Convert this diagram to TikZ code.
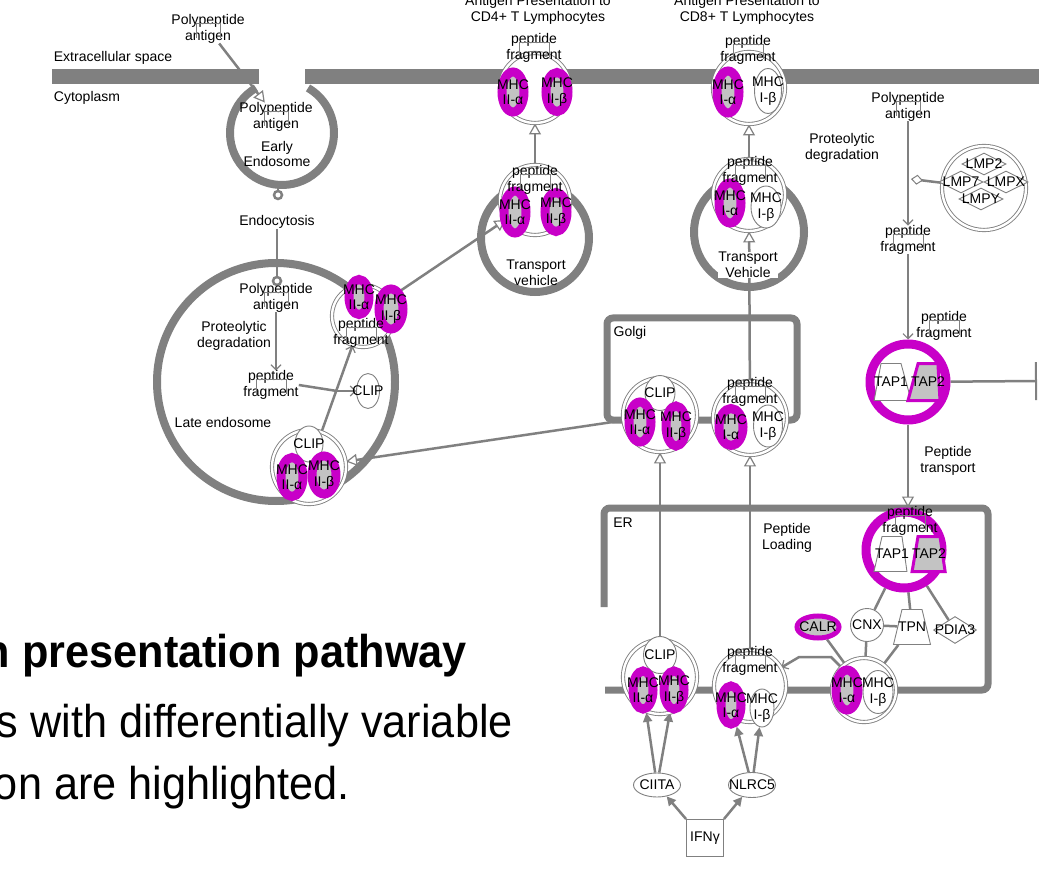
\documentclass[tikz,border=0pt]{standalone}
\usepackage{fontspec}
\setmainfont{Liberation Sans}
\newfontfamily\capfont[FakeStretch=0.94]{Liberation Sans}
\usetikzlibrary{arrows.meta,shapes.geometric,backgrounds}
\definecolor{wpgray}{RGB}{128,128,128}
\definecolor{wpmag}{RGB}{200,0,200}
\definecolor{wpfill}{RGB}{195,195,195}

\begin{document}
\begin{tikzpicture}[x=1pt,y=-1pt]
\tikzstyle{every node}+=[inner sep=0pt, font=\fontsize{14}{15.5}\selectfont, align=center]
\tikzstyle{memb}=[draw=wpgray, line width=15pt]
\tikzstyle{comp}=[draw=wpgray, line width=8pt]
\tikzstyle{cplx}=[circle, draw=wpgray, double=white, double distance=2.4pt, line width=0.9pt, fill=white]
\tikzstyle{hilite}=[ellipse, draw=wpmag, line width=9pt, fill=wpfill]
\tikzstyle{plain}=[ellipse, draw=wpgray, line width=0.9pt, fill=white]
\tikzstyle{trap}=[trapezium, trapezium stretches=true, inner sep=1pt, draw=wpgray, line width=0.9pt, fill=white]
\tikzstyle{dia}=[diamond, draw=wpgray, line width=0.9pt, fill=white, minimum width=44pt, minimum height=22pt]
\tikzstyle{ringend}=[circle, draw=wpgray, line width=2.5pt, fill=white, minimum size=8pt]
\tikzstyle{tapring}=[circle, draw=wpmag, line width=9pt, fill=white, minimum size=76pt]
\tikzstyle{brk}=[draw=wpgray, line width=0.6pt]
\tikzstyle{gline}=[draw=wpgray, line width=2.5pt]
\tikzstyle{conv}=[gline, -{Triangle[fill=white, line width=1.2pt, length=11pt, width=12pt]}]
\tikzstyle{react}=[gline, -{Straight Barb[line width=1.2pt, length=5pt, width=10pt]}]
\tikzstyle{stim}=[gline, -{Triangle[length=9pt, width=9pt]}]
\tikzstyle{cat}=[gline, -{Diamond[fill=white, line width=1pt, length=12pt, width=10pt]}]
\useasboundingbox (0,0) rectangle (1039,877);
\clip (0,0) rectangle (1039,877);

\node (pa0) at (208,29) {Polypeptide\\antigen};
\node (pa1) at (276,117) {Polypeptide\\antigen};

\begin{scope}[on background layer]
\draw[conv] (pa0) -- (pa1);
\draw[memb] (52,77) -- (259,77);
\draw[memb] (305,77) -- (1039,77);
\draw[comp] (282,133) ++(240:52) arc[start angle=240, end angle=-60, radius=52];
\draw[comp] (276,382) circle[radius=119];
\draw[comp] (535,238) circle[radius=54];
\draw[comp] (749,232) circle[radius=55];
\draw[comp, line width=7pt, rounded corners=6pt] (607,318) rectangle (797,420);
\draw[comp, line width=7pt, rounded corners=6pt] (604,607) -- (604,508) -- (988,508) -- (988,690) -- (605,690);
\end{scope}

\node (ext) at (113,58) {Extracellular space};
\node (cyto) at (87,98) {Cytoplasm};
\node (eendo) at (277,154) {Early\\Endosome};
\node[ringend] (ring1) at (278,195) {};
\node (endo) at (277,222) {Endocytosis};
\node[ringend] (ring2) at (277,281) {};
\node (pa2) at (276,298) {Polypeptide\\antigen};
\node (deg1) at (234,336) {Proteolytic\\degradation};
\node (pf2) at (271,385) {peptide\\fragment};
\node (lend) at (223,422) {Late endosome};
\node[plain, minimum width=23pt, minimum height=35pt, label={center:CLIP}] (clip1) at (368,391) {};
\coordinate (br) at (337,391);

% late endosome
\node[cplx, minimum size=62pt] (lec1) at (363,316) {};
\node[hilite, minimum width=20pt, minimum height=35pt, label={center:MHC\\II-α}] (lec1a) at (359,297) {};
\node[hilite, minimum width=24pt, minimum height=40pt, label={center:MHC\\II-β}] (lec1b) at (391,309) {};
\node (lec1p) at (361,333) {peptide\\fragment};
\node[cplx, minimum size=74pt] (lec2) at (309,467) {};
\node[plain, minimum width=28pt, minimum height=36pt, label={center:CLIP}] (lec2c) at (309,444) {};
\node[hilite, minimum width=22pt, minimum height=39pt, label={center:MHC\\II-α}] (lec2a) at (292,477) {};
\node[hilite, minimum width=24pt, minimum height=38pt, label={center:MHC\\II-β}] (lec2b) at (324,475) {};

% CD4 route
\node[cplx, minimum size=70pt] (tc4) at (535,200) {};
\node[hilite, minimum width=22pt, minimum height=42pt, label={center:MHC\\II-α}] (tc4a) at (515,212) {};
\node[hilite, minimum width=22pt, minimum height=39pt, label={center:MHC\\II-β}] (tc4b) at (556,212) {};
\node (tc4p) at (535,180) {peptide\\fragment};
\node (tv4) at (536,273) {Transport\\vehicle};
\node[cplx, minimum size=70pt] (tp4) at (535,88) {};
\node[hilite, minimum width=22pt, minimum height=40pt, label={center:MHC\\II-α}] (tp4a) at (513,92) {};
\node[hilite, minimum width=22pt, minimum height=39pt, label={center:MHC\\II-β}] (tp4b) at (557,92) {};
\node (tp4p) at (534,48) {peptide\\fragment};
\node (ttl4) at (538,10) {Antigen Presentation to\\CD4+ T Lymphocytes};

% CD8 route
\node[cplx, minimum size=72pt] (tp8) at (749,88) {};
\node[hilite, minimum width=22pt, minimum height=42pt, label={center:MHC\\I-α}] (tp8a) at (728,92) {};
\node[plain, minimum width=27pt, minimum height=45pt, label={center:MHC\\I-β}] (tp8b) at (768,91) {};
\node (tp8p) at (748,50) {peptide\\fragment};
\node (ttl8) at (747,10) {Antigen Presentation to\\CD8+ T Lymphocytes};
\node[cplx, minimum size=72pt] (tc8) at (749,195) {};
\node[hilite, minimum width=22pt, minimum height=40pt, label={center:MHC\\I-α}] (tc8a) at (730,203) {};
\node[plain, minimum width=30pt, minimum height=42pt, label={center:MHC\\I-β}] (tc8b) at (766,207) {};
\node (tc8p) at (750,171) {peptide\\fragment};
\node[fill=white] (tv8) at (748,265) {Transport\\Vehicle};

% Golgi
\node (golgi) at (630,333) {Golgi};
\node[cplx, minimum size=74pt] (gc4) at (660,415) {};
\node[plain, minimum width=30pt, minimum height=35pt, label={center:CLIP}] (gc4c) at (660,393) {};
\node[hilite, minimum width=22pt, minimum height=40pt, label={center:MHC\\II-α}] (gc4a) at (640,422) {};
\node[hilite, minimum width=20pt, minimum height=40pt, label={center:MHC\\II-β}] (gc4b) at (676,426) {};
\node[cplx, minimum size=74pt] (gc8) at (750,418) {};
\node[hilite, minimum width=24pt, minimum height=37pt, label={center:MHC\\I-α}] (gc8a) at (731,427) {};
\node[plain, minimum width=29pt, minimum height=42pt, label={center:MHC\\I-β}] (gc8b) at (768,426) {};
\node (gc8p) at (750,392) {peptide\\fragment};

% cytosol, proteasome, TAP
\node (pa3) at (908,107) {Polypeptide\\antigen};
\node (deg2) at (842,148) {Proteolytic\\degradation};
\node (pf3) at (908,240) {peptide\\fragment};
\node[cplx, minimum size=84pt] (prot) at (984,188) {};
\node[dia, label={center:LMP2}] (lmp2) at (984,164) {};
\node[dia, label={center:LMP7}] (lmp7) at (961,182) {};
\node[dia, label={center:LMPX}] (lmpx) at (1006,182) {};
\node[dia, label={center:LMPY}] (lmpy) at (981,199) {};
\coordinate (kat) at (911,179);
\node[tapring] (tapc) at (908,382) {};
\node[trap, trapezium left angle=71, trapezium right angle=63, minimum width=37pt, minimum height=37pt, label={center:TAP1}] (tapc1) at (891,382) {};
\node[trap, draw=wpmag, line width=3pt, fill=wpfill, trapezium left angle=63, trapezium right angle=84, minimum width=32pt, minimum height=37pt, label={center:TAP2}] (tapc2) at (928,382) {};
\node (tapp) at (944,326) {peptide\\fragment};
\coordinate (tbar) at (1037,381);
\node (ptr) at (948,461) {Peptide\\transport};

% ER
\node (er) at (623,523) {ER};
\node (pload) at (787,538) {Peptide\\Loading};
\node[tapring] (tape) at (904,550) {};
\node[trap, trapezium left angle=68, trapezium right angle=76, minimum width=33pt, minimum height=35pt, label={center:TAP1}] (tape1) at (892,554) {};
\node[trap, draw=wpmag, line width=3pt, fill=wpfill, trapezium left angle=75, trapezium right angle=77, minimum width=33pt, minimum height=35pt, label={center:TAP2}] (tape2) at (929,554) {};
\node (tapep) at (910,521) {peptide\\fragment};
\node[circle, draw=wpgray, line width=0.9pt, fill=white, minimum size=33pt] (cnx) at (867,625) {CNX};
\node[trap, trapezium left angle=67, trapezium right angle=67, minimum width=37pt, minimum height=35pt, label={center:TPN}] (tpn) at (912,627) {};
\node[dia, minimum width=43pt, minimum height=27pt, label={center:PDIA3}] (pdia) at (955,630) {};
\node[ellipse, draw=wpmag, line width=5pt, fill=wpfill, minimum width=42pt, minimum height=22pt, label={center:CALR}] (calr) at (818,627) {};
\node[cplx, minimum size=74pt] (ec4) at (660,677) {};
\node[plain, minimum width=33pt, minimum height=37pt, label={center:CLIP}] (ec4c) at (660,655) {};
\node[hilite, minimum width=20pt, minimum height=38pt, label={center:MHC\\II-α}] (ec4a) at (643,690) {};
\node[hilite, minimum width=20pt, minimum height=38pt, label={center:MHC\\II-β}] (ec4b) at (674,690) {};
\node[cplx, minimum size=72pt] (ec8) at (750,686) {};
\node[hilite, minimum width=20pt, minimum height=38pt, label={center:MHC\\I-α}] (ec8a) at (731,705) {};
\node[plain, minimum width=24pt, minimum height=38pt, label={center:MHC\\I-β}] (ec8b) at (762,708) {};
\node (ec8p) at (750,661) {peptide\\fragment};
\node[cplx, minimum size=64pt] (ec8m) at (864,690) {};
\node[plain, minimum width=30pt, minimum height=43pt, label={center:MHC\\I-β}] (ec8mb) at (878,692) {};
\node[hilite, minimum width=22pt, minimum height=40pt, label={center:MHC\\I-α}] (ec8ma) at (847,690) {};

% regulators
\node[plain, minimum width=47pt, minimum height=24pt, label={center:CIITA}] (ciita) at (657,785) {};
\node[plain, minimum width=47pt, minimum height=25pt, label={center:NLRC5}] (nlrc5) at (752,785) {};
\node[rectangle, draw=wpgray, line width=0.9pt, fill=white, minimum size=37pt] (ifng) at (705,838) {IFNγ};

% caption
\node[anchor=base east, font=\capfont\bfseries\fontsize{46}{50}\selectfont] (cap1) at (467,667) {n presentation pathway};
\node[anchor=base east, font=\capfont\fontsize{46}{50}\selectfont] (cap2) at (513,737) {s with differentially variable};
\node[anchor=base east, font=\capfont\fontsize{46}{50}\selectfont] (cap3) at (350,799) {on are highlighted.};

% small molecule marks
\draw[brk] ([shift={(-12,9)}]pa0.center) -- ++(0,-15) -- ++(24,0) -- ++(0,15);
\draw[brk] ([shift={(-12,9)}]pa1.center) -- ++(0,-15) -- ++(24,0) -- ++(0,15);
\draw[brk] ([shift={(-12,9)}]pa2.center) -- ++(0,-15) -- ++(24,0) -- ++(0,15);
\draw[brk] ([shift={(-12,9)}]pa3.center) -- ++(0,-15) -- ++(24,0) -- ++(0,15);
\draw[brk] ([shift={(-15,9)}]pf2.center) -- ++(0,-15) -- ++(30,0) -- ++(0,15);
\draw[brk] ([shift={(-15,9)}]pf3.center) -- ++(0,-15) -- ++(30,0) -- ++(0,15);
\draw[brk] ([shift={(-15,9)}]lec1p.center) -- ++(0,-15) -- ++(30,0) -- ++(0,15);
\draw[brk] ([shift={(-15,9)}]tc4p.center) -- ++(0,-15) -- ++(30,0) -- ++(0,15);
\draw[brk] ([shift={(-15,9)}]tp4p.center) -- ++(0,-15) -- ++(30,0) -- ++(0,15);
\draw[brk] ([shift={(-15,9)}]tc8p.center) -- ++(0,-15) -- ++(30,0) -- ++(0,15);
\draw[brk] ([shift={(-15,9)}]tp8p.center) -- ++(0,-15) -- ++(30,0) -- ++(0,15);
\draw[brk] ([shift={(-15,9)}]gc8p.center) -- ++(0,-15) -- ++(30,0) -- ++(0,15);
\draw[brk] ([shift={(-15,9)}]tapp.center) -- ++(0,-15) -- ++(30,0) -- ++(0,15);
\draw[brk] ([shift={(-15,9)}]tapep.center) -- ++(0,-15) -- ++(30,0) -- ++(0,15);
\draw[brk] ([shift={(-15,9)}]ec8p.center) -- ++(0,-15) -- ++(30,0) -- ++(0,15);

\begin{scope}[on background layer]
\draw[gline] (ring1.north) -- ++(0,-6);
\draw[gline] (endo) -- (ring2);
\draw[react] (pa2) -- (pa2 |- pf2.north);
\draw[gline] (pf2.east) -- (br);
\draw[react] (lec2) -- (lec1);
\draw[react] (br) -- (clip1);
\draw[conv] (gc4) -- (lec2);
\draw[conv] (lec1) -- (tc4);
\draw[conv] (tc4) -- (tp4);
\draw[conv] (gc8) -- (tc8);
\draw[conv] (tc8) -- (tp8);
\draw[conv] (ec4) -- (gc4);
\draw[conv] (ec8) -- (gc8);
\draw[react] (pa3) -- (pf3);
\draw[cat] (prot) -- (kat);
\draw[react] (pf3) -- (tapc);
\draw[gline, -{Bar[width=38pt, line width=2pt]}] (tapc) -- (tbar);
\draw[conv] (tapc) -- (tapc |- tape.north);
\draw[gline] (tape) -- (cnx);
\draw[gline] (tape) -- (tpn);
\draw[gline] (tape) -- (pdia);
\draw[gline] (cnx) -- (tpn);
\draw[gline] (cnx) -- (ec8m);
\draw[gline] (tpn) -- (ec8m);
\draw[gline] (calr) -- (ec8m);
\draw[react] (ec8m.north west) -- ++(-10,-10) -- ++(-32,0) -- (ec8);
\draw[stim] (ciita) -- (ec4a);
\draw[stim] (ciita) -- (ec4b);
\draw[stim] (nlrc5) -- (ec8a);
\draw[stim] (nlrc5) -- (ec8b);
\draw[stim] (ifng.north west) -- (ciita);
\draw[stim] (ifng.north east) -- (nlrc5);
\end{scope}
\end{tikzpicture}
\end{document}
